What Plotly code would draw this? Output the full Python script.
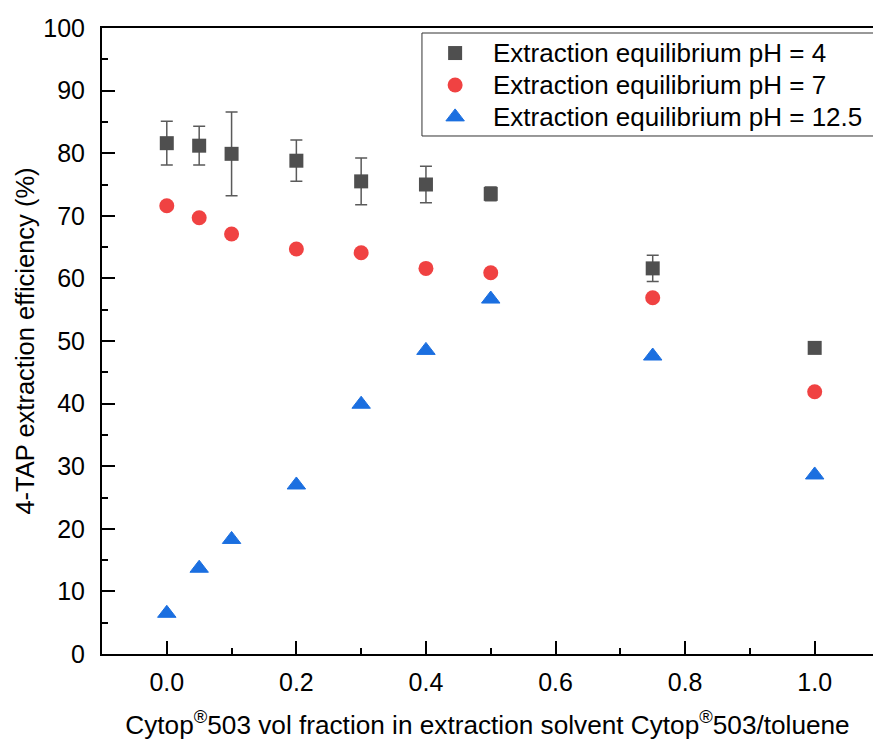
import plotly.graph_objects as go

# Cytop 503 volume fraction in the Cytop 503 / toluene extraction solvent
fraction = [0.0, 0.05, 0.1, 0.2, 0.3, 0.4, 0.5, 0.75, 1.0]

# 4-TAP extraction efficiency (%) at three equilibrium pH values
eff_ph4 = [81.6, 81.2, 79.9, 78.8, 75.5, 75.0, 73.5, 61.6, 48.9]
err_ph4 = [3.5, 3.1, 6.7, 3.3, 3.75, 2.9, 1.1, 2.1, 0.3]
eff_ph7 = [71.6, 69.7, 67.1, 64.7, 64.1, 61.6, 60.9, 56.9, 41.9]
eff_ph125 = [6.5, 13.7, 18.3, 27.0, 39.9, 48.5, 56.7, 47.6, 28.6]

names = ["Extraction equilibrium pH = 4",
         "Extraction equilibrium pH = 7",
         "Extraction equilibrium pH = 12.5"]

x_ticks = [0.0, 0.2, 0.4, 0.6, 0.8, 1.0]
y_ticks = [0, 10, 20, 30, 40, 50, 60, 70, 80, 90, 100]

FONT = "Liberation Sans, Arial, sans-serif"

styles = [
    dict(symbol="square", size=14, color="#4f4f4f"),
    dict(symbol="circle", size=15, color="#f04242"),
    dict(symbol="triangle-up", size=16, color="#1b6fe0",
         line=dict(width=1, color="#1b6fe0")),
]

fig = go.Figure()
fig.add_trace(go.Scatter(
    x=fraction, y=eff_ph4, mode="markers", name=names[0],
    marker=styles[0],
    error_y=dict(type="data", array=err_ph4, visible=True,
                 color="#5a5a5a", thickness=1.5, width=6),
))
fig.add_trace(go.Scatter(
    x=fraction, y=eff_ph7, mode="markers", name=names[1],
    marker=styles[1],
))
fig.add_trace(go.Scatter(
    x=fraction, y=eff_ph125, mode="markers", name=names[2],
    marker=styles[2],
))

# Key box: swatches on an overlay axis spanning the plot area (0..1 both ways)
key_x = 0.458
key_text_x = 0.5045
key_rows = [0.960, 0.909, 0.858]
for name, st, ky in zip(names, styles, key_rows):
    fig.add_trace(go.Scatter(
        x=[key_x], y=[ky], mode="markers", marker=st,
        xaxis="x2", yaxis="y2", showlegend=False, hoverinfo="skip",
        cliponaxis=False,
    ))
    fig.add_annotation(
        x=key_text_x, y=ky, xref="paper", yref="paper",
        text=name, showarrow=False, xanchor="left", yanchor="middle",
        font=dict(size=26, family=FONT, color="black"),
    )
fig.add_shape(
    type="rect", xref="paper", yref="paper",
    x0=0.415, x1=1.02, y0=0.8275, y1=0.992,
    line=dict(color="#333333", width=1), fillcolor="rgba(0,0,0,0)",
    layer="below",
)

fig.update_layout(
    width=873, height=740,
    margin=dict(l=102, r=0, t=28, b=86, autoexpand=False),
    paper_bgcolor="white", plot_bgcolor="white",
    font=dict(family=FONT, color="black", size=24),
    showlegend=False,
    xaxis=dict(
        range=[-0.1, 1.09],
        tickvals=x_ticks, ticktext=[f"{v:.1f}" for v in x_ticks],
        ticks="inside", ticklen=13, tickwidth=2, tickcolor="black",
        minor=dict(dtick=0.1, tick0=0, ticks="inside", ticklen=6,
                   tickwidth=2, tickcolor="black"),
        showline=True, linewidth=2, linecolor="black", mirror=True,
        showgrid=False, zeroline=False,
        tickfont=dict(size=25), ticklabelstandoff=5,
        title=dict(text="Cytop<sup>®</sup>503 vol fraction in extraction solvent "
                        "Cytop<sup>®</sup>503/toluene",
                   font=dict(size=26.2), standoff=22),
    ),
    yaxis=dict(
        range=[0, 100],
        tickvals=y_ticks,
        ticks="inside", ticklen=13, tickwidth=2, tickcolor="black",
        minor=dict(dtick=5, tick0=0, ticks="inside", ticklen=6,
                   tickwidth=2, tickcolor="black"),
        showline=True, linewidth=2, linecolor="black", mirror=False,
        showgrid=False, zeroline=False,
        tickfont=dict(size=25), ticklabelstandoff=10,
        title=dict(text="4-TAP extraction efficiency (%)",
                   font=dict(size=25.5), standoff=1),
    ),
    xaxis2=dict(overlaying="x", range=[0, 1], visible=False, anchor="y2"),
    yaxis2=dict(overlaying="y", range=[0, 1], visible=False, anchor="x2"),
)

fig.write_html("out.html")
